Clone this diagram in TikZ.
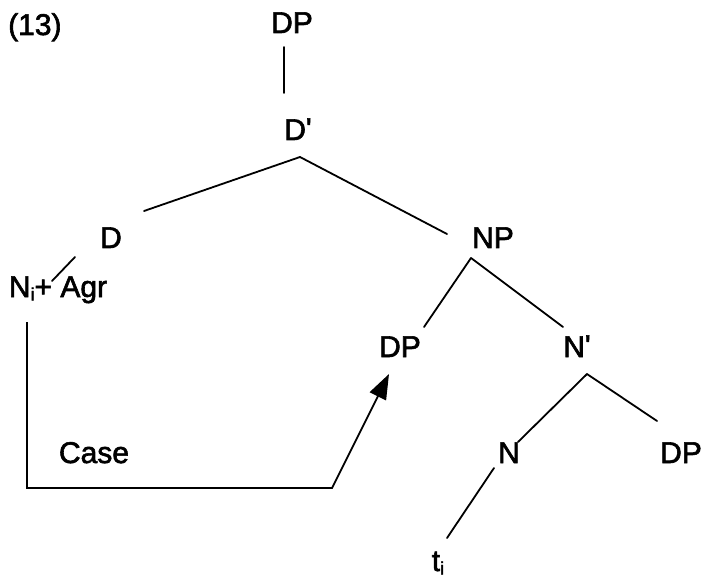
\documentclass[tikz,border=0pt]{standalone}
\usepackage{fontspec}
\setmainfont{Liberation Sans}[FakeBold=2]
\usetikzlibrary{calc,arrows.meta}
\tikzset{
  lbl/.style={anchor=base, inner sep=0pt, font=\fontsize{30}{36}\selectfont},
  br/.style={line width=1.8pt, line cap=round},
}
\newcommand{\prm}{\raisebox{1pt}{\textquotesingle}}
\newcommand{\lowi}{\raisebox{-3.5pt}{\fontsize{18}{18}\selectfont i}}
\begin{document}
\begin{tikzpicture}[x=1pt,y=-1pt]
\useasboundingbox[fill=white] (0,0) rectangle (701,577);
% labels
\node[lbl, anchor=base west] (ex) at (8,35) {(13)};
\node[lbl] (DPtop) at (292,33) {DP};
\node[lbl] (Dbar) at (298,140) {D\prm};
\node[lbl] (D) at (111,248) {D};
\node[lbl] (NiAgr) at (58,297) {N\lowi+ Agr};
\node[lbl] (NP) at (493,248) {NP};
\node[lbl] (DPspec) at (400,357) {DP};
\node[lbl] (Nbar) at (577,357) {N\prm};
\node[lbl] (N) at (509,463) {N};
\node[lbl] (DPcomp) at (681,463) {DP};
\node[lbl] (ti) at (438,571) {t\lowi};
\node[lbl] (Case) at (94,463) {Case};
% branches
\draw[br] ($(DPtop.base)+(-8,14)$) -- ($(Dbar.base)+(-14,-47)$);
\draw[br] ($(Dbar.base)+(2,17)$) -- ($(D.base)+(33,-37)$);
\draw[br] ($(Dbar.base)+(2,17)$) -- ($(NP.base)+(-46,-14)$);
\draw[br] ($(NiAgr.base)+(-6,-16)$) -- ($(D.base)+(-36,9)$);
\draw[br] ($(NP.base)+(-22,10)$) -- ($(DPspec.base)+(24,-30)$);
\draw[br] ($(NP.base)+(-22,10)$) -- ($(Nbar.base)+(-14,-30)$);
\draw[br] ($(Nbar.base)+(10,17)$) -- ($(N.base)+(9,-21)$);
\draw[br] ($(Nbar.base)+(10,17)$) -- ($(DPcomp.base)+(-24,-42)$);
\draw[br] ($(N.base)+(-15,5)$) -- ($(ti.base)+(9,-33)$);
% Case arrow
\coordinate (c1) at ($(NiAgr.base)+(-31,191)$);
\coordinate (c2) at ($(DPspec.base)+(-68,131)$);
\draw[line width=1.8pt, line join=miter, -{Triangle[length=25pt,width=18pt]}]
  ($(NiAgr.base)+(-31,25)$) -- (c1) -- (c2) -- ($(DPspec.base)+(-11,17)$);
\end{tikzpicture}
\end{document}
